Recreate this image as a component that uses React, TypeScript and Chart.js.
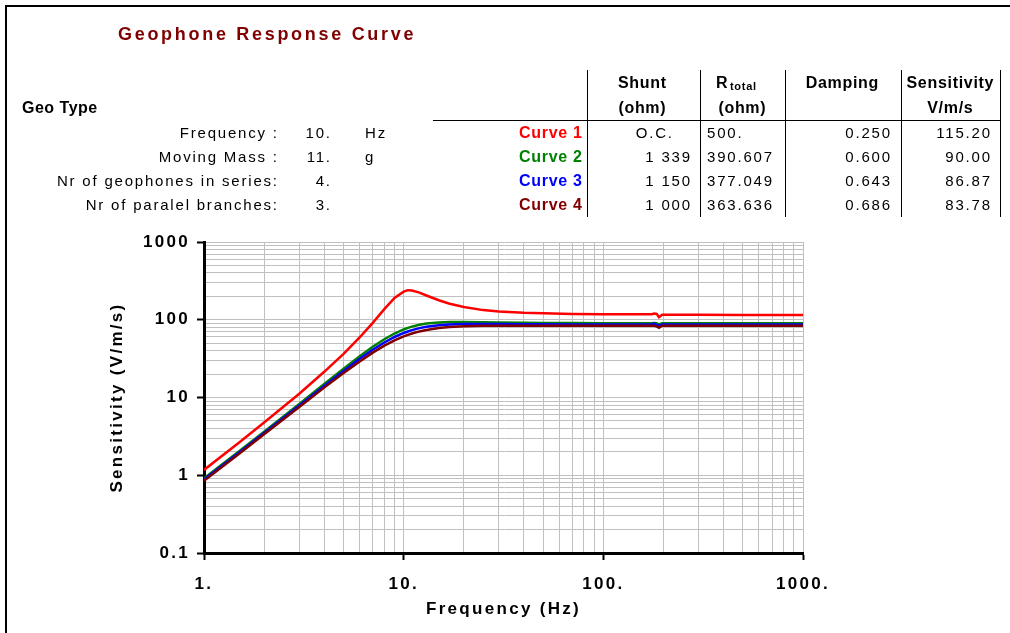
import React, { useEffect, useRef } from 'react';
import { Chart, registerables } from 'chart.js';

Chart.register(...registerables);

// ---------- data ----------
const FREQUENCY_HZ = [1, 1.5, 2, 3, 4, 5, 6, 7, 8, 9, 10, 10.5, 11, 12, 13, 15, 17, 20, 25, 30, 40, 50, 70, 100, 150, 175, 180, 185, 190, 197, 200, 300, 500, 1000];
const CURVE_1 = [1.17, 2.64, 4.77, 11.2, 21.4, 36.4, 58.7, 91.3, 137, 191, 230, 240, 238, 223, 205, 178, 161, 146, 133, 128, 123, 121, 119, 118, 118, 117.5, 120.5, 119, 108, 115.8, 115.8, 115.6, 115.5, 115.5];
const CURVE_2 = [0.912, 2.04, 3.64, 8.28, 14.9, 23.4, 33.6, 44.9, 56.2, 66.5, 75, 78.5, 81.5, 86.1, 89.2, 92.4, 93.5, 93.7, 93.0, 92.3, 91.4, 91.0, 90.5, 90.3, 90.1, 90.1, 91, 90, 87, 90, 90, 90, 90, 90];
const CURVE_3 = [0.879, 1.96, 3.50, 7.91, 14.1, 22.0, 31.2, 41.1, 51.0, 60.0, 67.6, 70.7, 73.5, 78.0, 81.2, 85.0, 86.9, 87.9, 88.2, 88.0, 87.7, 87.4, 87.1, 87.0, 86.9, 86.9, 89, 86, 84, 86.9, 86.9, 86.9, 86.9, 86.9];
const CURVE_4 = [0.847, 1.89, 3.36, 7.55, 13.4, 20.6, 28.9, 37.8, 46.4, 54.3, 61.1, 64.0, 66.5, 70.8, 74.0, 78.3, 80.7, 82.4, 83.5, 83.8, 83.9, 83.9, 83.9, 83.8, 83.8, 83.8, 84, 82, 79, 83.8, 83.8, 83.8, 83.8, 83.8];

const CURVE_NAMES = ['Curve 1', 'Curve 2', 'Curve 3', 'Curve 4'];
const SHUNT_OHM = ['O.C.', '1 339', '1 150', '1 000'];
const R_TOTAL_OHM = ['500.', '390.607', '377.049', '363.636'];
const DAMPING = ['0.250', '0.600', '0.643', '0.686'];
const SENSITIVITY = ['115.20', '90.00', '86.87', '83.78'];

const GEO_LABELS = ['Frequency :', 'Moving Mass :', 'Nr of geophones in series:', 'Nr of paralel branches:'];
const GEO_VALUES = ['10.', '11.', '4.', '3.'];
const GEO_UNITS = ['Hz', 'g', '', ''];

const X_GRID = [1, 2, 3, 4, 5, 6, 7, 8, 9, 10, 20, 30, 40, 50, 60, 70, 80, 90, 100, 200, 300, 400, 500, 600, 700, 800, 900, 1000];
const Y_GRID = [0.1, 0.2, 0.3, 0.4, 0.5, 0.6, 0.7, 0.8, 0.9, 1, 2, 3, 4, 5, 6, 7, 8, 9, 10, 20, 30, 40, 50, 60, 70, 80, 90, 100, 200, 300, 400, 500, 600, 700, 800, 900, 1000];
const X_TICK_VALUES = [1, 10, 100, 1000];
const X_TICK_LABELS = ['1.', '10.', '100.', '1000.'];
const Y_TICK_VALUES = [0.1, 1, 10, 100, 1000];
const Y_TICK_LABELS = ['0.1', '1', '10', '100', '1000'];

// ---------- styling ----------
const W = 1010;
const H = 633;
const FONT = "'Liberation Sans', Arial, Helvetica, sans-serif";
const COLORS = ['#ff0000', '#008000', '#0000ff', '#800000'];
const SERIES = [CURVE_1, CURVE_2, CURVE_3, CURVE_4];

const isMajor = (v: number) => Math.abs(Math.log10(v) - Math.round(Math.log10(v))) < 1e-6;
const labelFor = (vals: number[], labels: string[], v: number) => {
  const i = vals.findIndex((t) => Math.abs(t - v) <= t * 1e-6);
  return i >= 0 ? labels[i] : '';
};

type TP = {
  x: number; y: number; text: string; align?: 'left' | 'right' | 'center';
  size?: number; bold?: boolean; ls?: number; color?: string;
};

function Txt({ x, y, text, align = 'left', size = 15, bold = false, ls = 0, color = '#000' }: TP) {
  const lh = 20;
  const style: React.CSSProperties = {
    position: 'absolute', top: y - lh / 2, height: lh, lineHeight: lh + 'px',
    fontFamily: FONT, fontSize: size, fontWeight: bold ? 700 : 400, letterSpacing: ls,
    color, whiteSpace: 'nowrap',
  };
  if (align === 'left') style.left = x;
  else if (align === 'right') style.right = W - x - ls;
  else { style.left = x - 300 + ls / 2; style.width = 600; style.textAlign = 'center'; }
  return <div style={style}>{text}</div>;
}

const ROW_Y = [132.5, 156.7, 180.9, 205.1];

export default function App() {
  const ref = useRef<HTMLCanvasElement | null>(null);

  useEffect(() => {
    const canvas = ref.current;
    if (!canvas) return;
    const tickFont = { family: FONT, size: 17, weight: 'bold' as const };
    const chart = new Chart(canvas, {
      type: 'line',
      data: {
        datasets: SERIES.map((s, i) => ({
          label: CURVE_NAMES[i],
          data: FREQUENCY_HZ.map((f, j) => ({ x: f, y: s[j] })),
          borderColor: COLORS[i],
          backgroundColor: COLORS[i],
          borderWidth: 2.5,
          pointRadius: 0,
          tension: 0,
          fill: false,
          order: 3 - i,
        })),
      },
      options: {
        animation: false,
        responsive: false,
        devicePixelRatio: 1,
        layout: { padding: { left: 107, top: 242, right: 207, bottom: 13 } },
        plugins: { legend: { display: false }, tooltip: { enabled: false } },
        scales: {
          x: {
            type: 'logarithmic',
            position: 'bottom',
            min: 1,
            max: 1000,
            afterBuildTicks: (s: any) => { s.ticks = X_GRID.map((v) => ({ value: v })); },
            afterFit: (s: any) => { s.height = 67; },
            ticks: {
              autoSkip: false, maxRotation: 0, minRotation: 0, padding: 14, color: '#000', font: tickFont,
              callback: (v: any) => labelFor(X_TICK_VALUES, X_TICK_LABELS, Number(v)),
            },
            grid: {
              color: '#c0c0c0', lineWidth: 1, tickLength: 7, tickWidth: 2,
              tickColor: (c: any) => (c.tick && isMajor(c.tick.value) ? '#000' : 'rgba(0,0,0,0)'),
            },
            border: { color: '#000', width: 3 },
            title: { display: true, text: 'Frequency (Hz)', color: '#000', padding: 0, font: { family: FONT, size: 17, weight: 'bold', lineHeight: 1.2 } },
          },
          y: {
            type: 'logarithmic',
            position: 'left',
            min: 0.1,
            max: 1000,
            afterBuildTicks: (s: any) => { s.ticks = Y_GRID.map((v) => ({ value: v })); },
            afterFit: (s: any) => { s.width = 97; },
            ticks: {
              autoSkip: false, padding: 7, color: '#000', font: tickFont,
              callback: (v: any) => labelFor(Y_TICK_VALUES, Y_TICK_LABELS, Number(v)),
            },
            grid: {
              color: '#c0c0c0', lineWidth: 1, tickLength: 7, tickWidth: 2,
              tickColor: (c: any) => (c.tick && isMajor(c.tick.value) ? '#000' : 'rgba(0,0,0,0)'),
            },
            border: { color: '#000', width: 3 },
            title: { display: true, text: 'Sensitivity (V/m/s)', color: '#000', padding: 0, font: { family: FONT, size: 17, weight: 'bold', lineHeight: 1.2 } },
          },
        },
      },
      plugins: [
        {
          id: 'letterSpacing',
          beforeDraw(c: any) { c.ctx.letterSpacing = '2.3px'; },
        },
      ],
    } as any);
    return () => chart.destroy();
  }, []);

  const vLines = [587, 700, 785, 901, 1000];

  return (
    <div style={{ position: 'fixed', left: 0, top: 0, width: W, height: H, background: '#fff', overflow: 'hidden' }}>
      <div style={{ position: 'absolute', left: 5, top: 5, width: W + 50, height: H + 50, borderLeft: '2px solid #000', borderTop: '2px solid #000' }} />
      <canvas ref={ref} width={W} height={H} style={{ position: 'absolute', left: 0, top: 0, width: W, height: H }} />

      <Txt x={118} y={34} text="Geophone Response Curve" bold size={18} ls={2.7} color="#800000" />
      <Txt x={22} y={107.5} text="Geo Type" bold size={16} ls={0.5} />

      {GEO_LABELS.map((t, i) => <Txt key={'gl' + i} x={277} y={ROW_Y[i]} text={t} align="right" size={15} ls={1.8} />)}
      {GEO_VALUES.map((t, i) => <Txt key={'gv' + i} x={330} y={ROW_Y[i]} text={t} align="right" size={15} ls={1.8} />)}
      {GEO_UNITS.map((t, i) => <Txt key={'gu' + i} x={365} y={ROW_Y[i]} text={t} size={15} ls={1.8} />)}

      {/* table header */}
      <Txt x={642} y={83} text="Shunt" align="center" bold size={16} ls={0.7} />
      <Txt x={642} y={108} text="(ohm)" align="center" bold size={16} ls={0.7} />
      <Txt x={716} y={83} text="R" bold size={16} ls={0.7} />
      <Txt x={730} y={85.5} text="total" bold size={11} ls={0.7} />
      <Txt x={742} y={108} text="(ohm)" align="center" bold size={16} ls={0.7} />
      <Txt x={842} y={83} text="Damping" align="center" bold size={16} ls={0.7} />
      <Txt x={950} y={83} text="Sensitivity" align="center" bold size={16} ls={0.7} />
      <Txt x={950} y={108} text="V/m/s" align="center" bold size={16} ls={0.7} />

      {CURVE_NAMES.map((t, i) => <Txt key={'cn' + i} x={582} y={ROW_Y[i]} text={t} align="right" bold size={16} ls={0.7} color={COLORS[i]} />)}
      {SHUNT_OHM.map((t, i) => <Txt key={'sh' + i} x={i === 0 ? 672 : 690} y={ROW_Y[i]} text={t} align="right" size={15} ls={1.8} />)}
      {R_TOTAL_OHM.map((t, i) => <Txt key={'rt' + i} x={707} y={ROW_Y[i]} text={t} size={15} ls={1.8} />)}
      {DAMPING.map((t, i) => <Txt key={'dm' + i} x={890} y={ROW_Y[i]} text={t} align="right" size={15} ls={1.8} />)}
      {SENSITIVITY.map((t, i) => <Txt key={'se' + i} x={990} y={ROW_Y[i]} text={t} align="right" size={15} ls={1.8} />)}

      <div style={{ position: 'absolute', left: 433, top: 120, width: 568, height: 1, background: '#000' }} />
      {vLines.map((x) => (
        <div key={'vl' + x} style={{ position: 'absolute', left: x, top: 70, width: 1, height: 147, background: '#000' }} />
      ))}
    </div>
  );
}
